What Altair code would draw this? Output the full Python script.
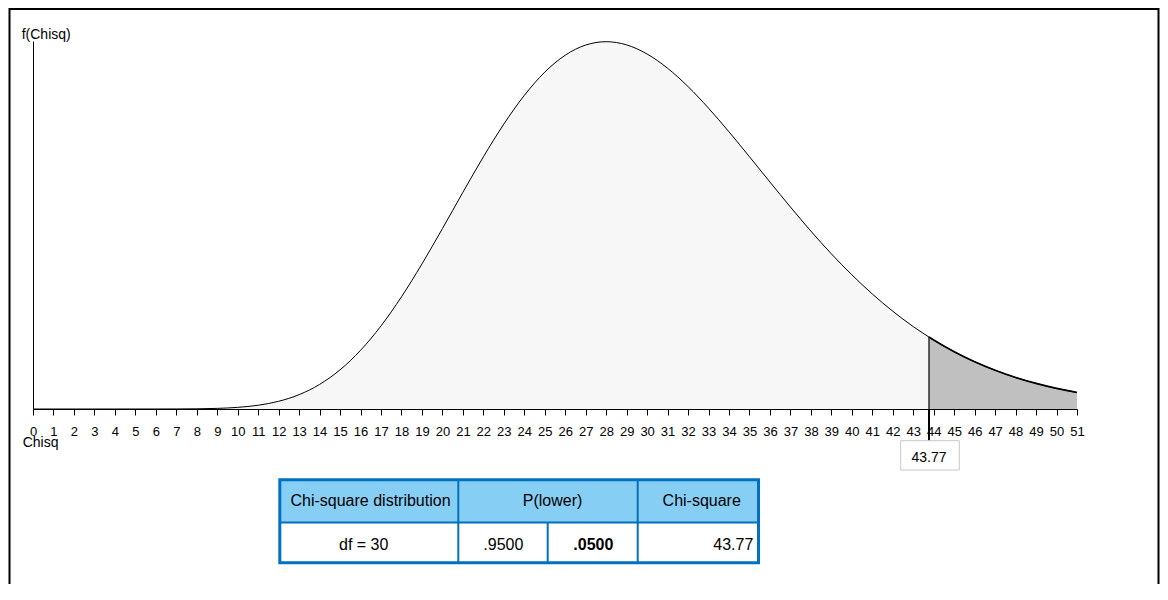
import altair as alt
import pandas as pd

# ---- data (chi-square density, df = 30) ----
chisq_x = list(range(0, 52))
density = [0.0, 0.0, 0.0, 0.0, 0.0, 0.0000002, 0.0000014, 0.0000072, 0.0000282, 0.0000889,
           0.000236, 0.000543, 0.001114, 0.002072, 0.003548, 0.005654, 0.008465, 0.01199,
           0.01619, 0.02093, 0.02603, 0.03127, 0.03638, 0.04111, 0.04525, 0.04861, 0.05105,
           0.05252, 0.05300, 0.05254, 0.05122, 0.04917, 0.04652, 0.04341, 0.03999, 0.03640,
           0.03275, 0.02915, 0.02567, 0.02239, 0.01937, 0.01660, 0.01411, 0.01189, 0.00995,
           0.00827, 0.00682, 0.00559, 0.00455, 0.00369, 0.00297, 0.00238]
critical_x = [43.77]
critical_density = [0.01038]
critical_label = ["43.77"]

table_header = ["Chi-square distribution", "P(lower)", "Chi-square"]
table_row = ["df = 30", ".9500", ".0500", "43.77"]
y_title = ["f(Chisq)"]
x_title = ["Chisq"]

FONT = "Liberation Sans"
BLUE = "#0070c0"

crit = critical_x[0]
pts = pd.DataFrame({"x": chisq_x, "y": density})
cpt = pd.DataFrame({"x": critical_x, "y": critical_density, "y0": [0.0], "label": critical_label})
left = pd.concat([pts[pts.x < crit], cpt[["x", "y"]]]).sort_values("x")
right = pd.concat([cpt[["x", "y"]], pts[pts.x > crit]]).sort_values("x")
allpts = pd.concat([pts, cpt[["x", "y"]]]).sort_values("x")

xscale = alt.Scale(domain=[0, 51], nice=False, zero=False)
yscale = alt.Scale(domain=[0, 0.0531], nice=False)
xaxis = alt.Axis(values=chisq_x, format="d", title=None, grid=False, domainColor="black",
                 tickColor="black", tickSize=6, labelFontSize=13, labelColor="black",
                 labelFont=FONT, labelAngle=0, labelOverlap=False, labelFlush=False,
                 labelBaseline="alphabetic", labelPadding=20, zindex=1)
yaxis = alt.Axis(title=None, grid=False, ticks=False, labels=False, domainColor="black", zindex=1)

X = alt.X("x:Q", scale=xscale, axis=xaxis)
Y = alt.Y("y:Q", scale=yscale, axis=yaxis)

one = pd.DataFrame({"a": [0]})

def box(x1, x2, y1, y2, **kw):
    return alt.Chart(one).mark_rect(**kw).encode(
        x=alt.value(x1), x2=alt.value(x2), y=alt.value(y1), y2=alt.value(y2))

def line(x1, x2, y1, y2, color, w):
    return alt.Chart(one).mark_rule(color=color, strokeWidth=w).encode(
        x=alt.value(x1), x2=alt.value(x2), y=alt.value(y1), y2=alt.value(y2))

def label(txt, x, y, size=16, align="center", bold=False):
    d = pd.DataFrame({"t": [txt]})
    return alt.Chart(d).mark_text(font=FONT, fontSize=size, align=align, baseline="alphabetic",
                                  color="black", fontWeight="bold" if bold else "normal").encode(
        x=alt.value(x), y=alt.value(y), text="t:N")

frame = box(-23.5, 1125.5, -32, 560, fillOpacity=0, stroke="black", strokeWidth=2)

left_area = alt.Chart(left).mark_area(color="#f7f7f7", interpolate="monotone").encode(x=X, y=Y)
right_area = alt.Chart(right).mark_area(color="#c0c0c0", interpolate="monotone").encode(x=X, y=Y)
curve = alt.Chart(allpts).mark_line(color="black", strokeWidth=1, interpolate="monotone").encode(x=X, y=Y)
tail = alt.Chart(right).mark_line(color="black", strokeWidth=1.7, interpolate="monotone").encode(x=X, y=Y)
crit_rule = alt.Chart(cpt).mark_rule(color="black", strokeWidth=1.2).encode(x=X, y=Y, y2="y0:Q")
crit_ext = alt.Chart(cpt).mark_rule(color="black", strokeWidth=2).encode(
    x=X, y=alt.value(368), y2=alt.value(399.5))
crit_box = box(867.7, 926.3, 399.7, 429, fill="white", stroke="#c8c8c8", strokeWidth=1)
crit_text = alt.Chart(cpt).mark_text(font=FONT, fontSize=14, color="black", baseline="alphabetic").encode(
    x=X, y=alt.value(420.5), text="label:N")

ytitle = label(y_title[0], -11.3, -2.5, size=14, align="left")
xtitle = label(x_title[0], -10.3, 406, size=14, align="left")

# table
t_fill_head = box(246.8, 725.5, 438.8, 481.5, fill="#87cef5")
t_fill_row = box(246.8, 725.5, 481.5, 521.8, fill="white")
t_hline = line(246.8, 725.5, 481.5, 481.5, BLUE, 2)
t_v1 = line(425.3, 425.3, 438.8, 521.8, BLUE, 2)
t_v2 = line(514.7, 514.7, 481.5, 521.8, BLUE, 2)
t_v3 = line(604.7, 604.7, 438.8, 521.8, BLUE, 2)
t_border = box(246.8, 725.5, 438.8, 521.8, fillOpacity=0, stroke=BLUE, strokeWidth=3)

h1 = label(table_header[0], 337.5, 465)
h2 = label(table_header[1], 519.5, 465)
h3 = label(table_header[2], 668.7, 465)
r1 = label(table_row[0], 330.7, 509)
r2 = label(table_row[1], 470.3, 509)
r3 = label(table_row[2], 560.3, 509, bold=True)
r4 = label(table_row[3], 720.3, 509, align="right")

chart = alt.layer(
    frame, left_area, right_area, curve, tail, crit_rule, crit_ext, crit_box, crit_text,
    ytitle, xtitle,
    t_fill_head, t_fill_row, t_hline, t_v1, t_v2, t_v3, t_border,
    h1, h2, h3, r1, r2, r3, r4,
).properties(
    width=1044, height=368,
    padding={"left": 25, "top": 33, "right": 83, "bottom": 175},
    autosize=alt.AutoSizeParams(type="none"),
).configure(font=FONT).configure_view(strokeWidth=0)

chart.save("out.html", embed_options={"renderer": "svg", "actions": False})
